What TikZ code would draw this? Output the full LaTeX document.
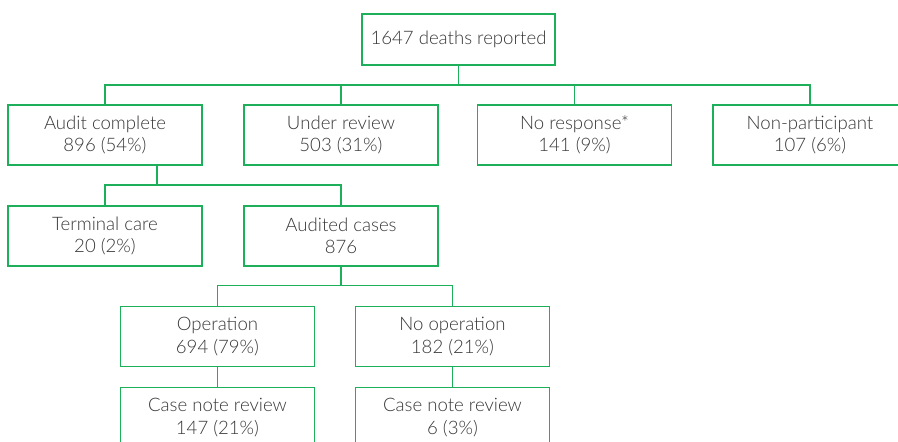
\documentclass[tikz,border=0pt]{standalone}
\usepackage{fontspec}
\setmainfont{Lato}[UprightFont=* Light]
\definecolor{boxgreen}{RGB}{30,175,90}
\definecolor{txt}{RGB}{55,55,55}
\begin{document}
\begin{tikzpicture}[x=1pt,y=-1pt,
  box/.style={draw=boxgreen,line width=1.4pt,rectangle,minimum width=194pt,minimum height=60pt,
    align=center,text=txt,font=\fontsize{18.6}{22.5}\selectfont,inner sep=0pt},
  link/.style={draw=boxgreen,line width=1.4pt}]
\useasboundingbox (0,0) rectangle (898,442);
\clip (0,0) rectangle (898,442);
\node[box,minimum width=193pt,minimum height=51pt] (top) at (458.5,39.5) {1647 deaths reported};
\node[box] (audit) at (105,135) {Audit complete\\896 (54\%)};
\node[box] (review) at (341,135) {Under review\\503 (31\%)};
\node[box] (noresp) at (574.5,135) {No response*\\141 (9\%)};
\node[box] (nonpart) at (810,135) {Non-participant\\107 (6\%)};
\node[box] (terminal) at (105,236) {Terminal care\\20 (2\%)};
\node[box] (audited) at (341,236) {Audited cases\\876};
\node[box] (oper) at (217.5,336.5) {Operation\\694 (79\%)};
\node[box] (nooper) at (452.5,336.5) {No operation\\182 (21\%)};
\node[box,anchor=north] (cnr1) at (217.5,387) {Case note review\\147 (21\%)};
\node[box,anchor=north] (cnr2) at (452.5,387) {Case note review\\6 (3\%)};
% level 1
\coordinate (j1) at (458.5,85);
\draw[link] (top.south) -- (j1);
\draw[link] (audit.north) |- (j1) -| (nonpart.north);
\draw[link] (review.north) -- (review.north |- j1);
\draw[link] (noresp.north) -- (noresp.north |- j1);
% level 2
\coordinate (a1) at (157,165);
\coordinate (j2) at (157,185);
\draw[link] (a1) -- (j2);
\draw[link] (terminal.north) |- (j2) -| (audited.north);
% level 3
\coordinate (j3) at (341,285.5);
\draw[link] (audited.south) -- (j3);
\draw[link] (oper.north) |- (j3) -| (nooper.north);
% level 4
\draw[link] (oper.south) -- (cnr1.north);
\draw[link] (nooper.south) -- (cnr2.north);
\end{tikzpicture}
\end{document}
